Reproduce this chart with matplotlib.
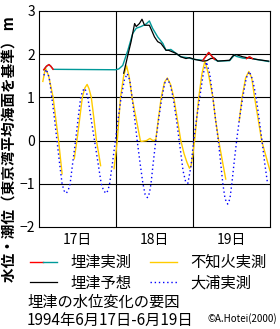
import matplotlib
matplotlib.use('Agg')
import matplotlib.pyplot as plt
import numpy as np
from matplotlib.lines import Line2D
from matplotlib.legend_handler import HandlerTuple

plt.rcParams['font.family'] = ['Noto Sans CJK JP', 'DejaVu Sans']

nan = np.nan

# hours from 17日 0:00
oura_h = [1.5, 2.3, 3.2, 4.0, 4.8, 5.6, 6.4, 7.2, 7.8, 8.5, 9.1, 9.7, 10.5, 11.4,
          12.2, 13.0, 13.6, 14.2, 14.7, 15.2, 16.2, 17.3, 18.4, 19.4, 20.2, 21.0,
          21.5, 22.0, 22.9, 23.8, 24.7, 25.6, 26.6, 27.5, 28.3, 29.0, 29.8, 30.6,
          31.5, 32.4, 33.1, 33.8, 34.4, 34.9, 35.6, 36.4, 37.4, 38.3, 39.2, 40.0,
          40.9, 41.8, 42.8, 43.7, 44.9, 45.7, 46.4, 47.4, 48.2, 49.2, 50.1, 51.2,
          52.2, 53.2, 54.2, 55.0, 55.9, 56.6, 57.3, 58.0, 58.8, 59.5, 60.1, 60.8,
          61.6, 62.5, 63.5, 64.6, 65.6, 66.6, 67.7, 68.6, 69.5, 70.4, 71.2]
oura_v = [1.51, 1.65, 1.45, 1.00, 0.52, 0.00, -0.52, -1.00, -1.16, -1.22, -1.15,
          -1.00, -0.52, 0.00, 0.52, 1.00, 1.15, 1.21, 1.14, 1.00, 0.52, 0.00,
          -0.52, -1.00, -1.17, -1.22, -1.15, -1.00, -0.52, 0.00, 0.52, 1.00, 1.40,
          1.55, 1.40, 1.00, 0.52, 0.00, -0.52, -1.00, -1.25, -1.32, -1.22, -1.00,
          -0.52, 0.00, 0.55, 1.00, 1.33, 1.43, 1.30, 1.00, 0.50, 0.00, -0.70,
          -0.95, -0.99, -0.58, 0.00, 0.55, 1.00, 1.55, 1.82, 1.55, 1.00, 0.50,
          0.00, -0.50, -1.00, -1.35, -1.47, -1.35, -1.00, -0.52, 0.00, 0.52, 1.00,
          1.45, 1.60, 1.40, 1.00, 0.50, 0.00, -0.55, -0.97]

shiranui_h = [1.2, 2.0, 3.0, 4.4, 5.2, 6.1, 6.7, 7.2, nan,
              11.0, 12.0, 13.5, 14.3, 15.0, 15.6, 16.3, 17.1, 17.9, 18.6, 19.2, nan,
              23.4, 24.4, 25.4, 26.4, 27.3, 28.1, 29.0, 30.3, 31.6, 31.9, 33.5, 34.6,
              35.5, 36.4, 37.2, 38.1, 39.1, 40.0, 41.0, 42.0, 43.1, 44.2, 45.2, 46.1,
              46.9, 47.4, 47.9, 48.5, 49.8, 50.8, 51.7, 52.8, 54.2, 55.0, 56.0, 57.1,
              58.2, nan,
              62.4, 63.3, 64.4, 65.4, 66.3, 67.2, 68.3, 69.4, 70.7, 72.0]
shiranui_v = [1.37, 1.68, 1.50, 1.00, 0.52, 0.00, -0.42, -0.77, nan,
              -0.42, 0.10, 1.00, 1.22, 1.30, 1.20, 1.00, 0.52, 0.00, -0.30, -0.58, nan,
              -0.65, 0.00, 1.00, 1.50, 1.73, 1.48, 1.00, 0.50, 0.00, -0.02, 0.00, 0.05,
              0.00, 0.02, 0.50, 1.00, 1.35, 1.45, 1.30, 1.00, 0.50, 0.00, -0.30, -0.50,
              -0.64, -0.58, -0.35, 0.00, 1.00, 1.55, 1.84, 1.55, 1.00, 0.50, 0.00, -0.45,
              -0.89, nan,
              0.45, 1.00, 1.45, 1.60, 1.45, 1.00, 0.50, 0.00, -0.35, -0.70]

umezu_obs_h = [1.5, 2.3, 3.1, 3.7, 4.4, 23.9, 24.9, 26.1, 27.7, 29.2, 30.3, 31.8,
               33.4, 34.4, 35.4, 37.0, 38.6, 39.6, 41.1, 42.7, 44.2, 46.3, 48.4,
               51.1, 52.9, 54.7, 55.7, 59.4, 60.9, 61.5, 63.5, 64.7, 65.6, 66.5,
               67.7, 71.6]
umezu_obs_v = [1.64, 1.72, 1.76, 1.72, 1.65, 1.64, 1.66, 1.74, 2.09, 2.48, 2.60,
               2.64, 2.70, 2.77, 2.60, 2.40, 2.25, 2.09, 2.11, 2.02, 1.94, 1.92,
               1.88, 1.86, 2.04, 1.88, 1.84, 1.85, 1.98, 1.95, 1.91, 1.90, 1.94,
               1.90, 1.88, 1.83]
red_ranges = [(1.5, 4.4), (51.1, 54.7), (64.7, 66.5)]

umezu_pred_h = [26.4, 27.7, 28.7, 29.8, 30.3, 31.3, 32.1, 32.9, 34.4, 36.0, 37.0,
                38.0, 39.6, 40.4, 41.7, 42.7, 44.2, 45.8, 46.9, 48.5, 51.1, 52.3,
                53.5, 54.7, 55.7, 59.4, 60.4, 61.5, 63.5, 65.6, 67.7, 71.6]
umezu_pred_v = [1.56, 1.98, 2.29, 2.71, 2.64, 2.71, 2.81, 2.67, 2.67, 2.40, 2.29,
                2.25, 2.09, 2.09, 2.05, 2.02, 1.94, 1.90, 1.92, 1.88, 1.84, 1.85,
                1.90, 1.91, 1.84, 1.86, 1.96, 1.99, 1.94, 1.91, 1.88, 1.84]

day_labels = ['17日', '18日', '19日']
day_centers = [12, 36, 60]
day_bounds = [24, 48]
y_ticks = [-2, -1, 0, 1, 2, 3]

RED = '#ff0000'
TEAL = '#009999'
GOLD = '#ffcc00'
BLUE = '#0000ff'

fig = plt.figure(figsize=(2.8, 3.29), dpi=100)
ax = fig.add_axes([39/280, 1-227/329, 231/280, 216/329])

ax.set_xlim(0, 72)
ax.set_ylim(-2, 3)

# grid
for yv in y_ticks[1:-1]:
    ax.axhline(yv, color='black', linewidth=0.8, zorder=1)
for xv in day_bounds:
    ax.axvline(xv, color='black', linewidth=0.8, zorder=1)

ax.plot(oura_h, oura_v, color=BLUE, linewidth=1.0, linestyle=(0, (1, 2)), zorder=3)
ax.plot(shiranui_h, shiranui_v, color=GOLD, linewidth=1.0, zorder=2)

# Umezu observed: teal, with red parts
oh = np.array(umezu_obs_h)
ov = np.array(umezu_obs_v)
ax.plot(oh, ov, color=TEAL, linewidth=1.0, zorder=4)
for a, b in red_ranges:
    m = (oh >= a) & (oh <= b)
    ax.plot(oh[m], ov[m], color=RED, linewidth=1.0, zorder=5)
ax.plot(umezu_pred_h, umezu_pred_v, color='black', linewidth=0.9, zorder=4)

ax.set_yticks(y_ticks)
ax.set_yticklabels([str(v).replace('-', '−') for v in y_ticks], fontsize=10)
ax.set_xticks(day_centers)
ax.set_xticklabels(day_labels, fontsize=10)
ax.tick_params(length=0, pad=3)
ax.tick_params(axis='x', pad=4)
for s in ax.spines.values():
    s.set_linewidth(0.8)

fig.text(10/280, 1-149/329, '水位・潮位（東京湾平均海面を基準） m', rotation=90,
         ha='center', va='center', fontsize=10.5, fontweight='bold')

h_obs = (Line2D([], [], color=RED, linewidth=1.0), Line2D([], [], color=TEAL, linewidth=1.0))
h_pred = Line2D([], [], color='black', linewidth=0.9)
h_shi = Line2D([], [], color=GOLD, linewidth=1.0)
h_oura = Line2D([], [], color=BLUE, linewidth=1.0, linestyle=(0, (1, 2)))
fig.legend([h_obs, h_pred, h_shi, h_oura], ['埋津実測', '埋津予想', '不知火実測', '大浦実測'],
           ncol=2, loc='upper left', bbox_to_anchor=(30/280, 1-254/329),
           frameon=False, fontsize=11, borderpad=0, borderaxespad=0,
           handlelength=1.75, handletextpad=0.9, columnspacing=1.2, labelspacing=0.25,
           handler_map={tuple: HandlerTuple(ndivide=None, pad=0)})

fig.text(27/280, 1-302/329, '埋津の水位変化の要因', ha='left', va='center', fontsize=11)
fig.text(27/280, 1-320/329, '1994年6月17日-6月19日', ha='left', va='center', fontsize=11)
fig.text(277/280, 1-319/329, '©A.Hotei(2000)', ha='right', va='center', fontsize=7)

fig.savefig('out.png', dpi=100)
